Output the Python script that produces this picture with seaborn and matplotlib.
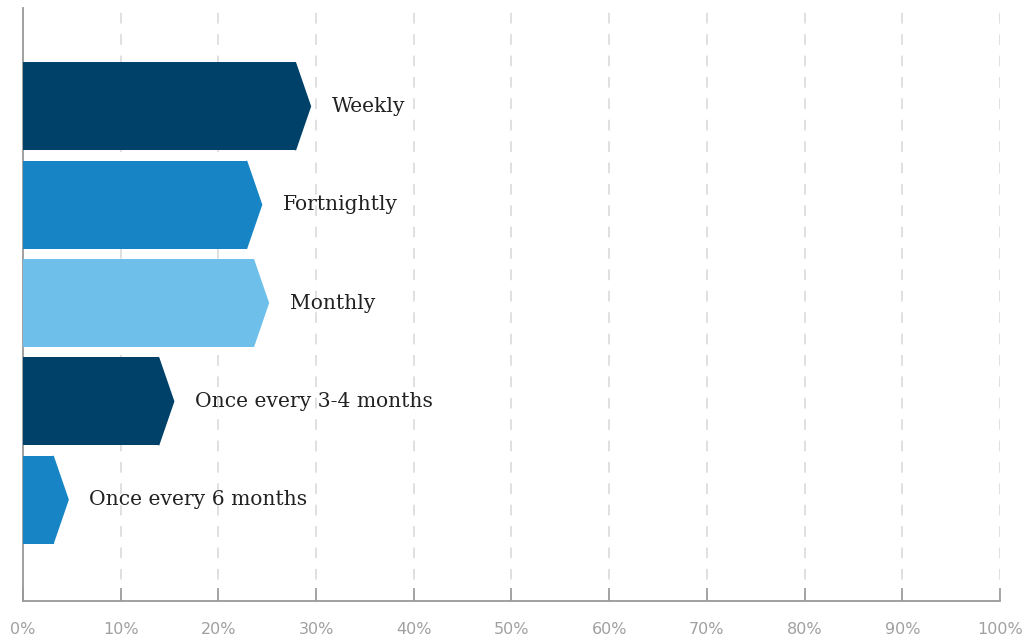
import matplotlib
matplotlib.use("Agg")
import matplotlib.pyplot as plt
from matplotlib.patches import Polygon
import seaborn as sns
import pandas as pd

categories = ["Weekly", "Fortnightly", "Monthly", "Once every 3-4 months", "Once every 6 months"]
values = [29.5, 24.5, 25.2, 15.5, 4.7]
bar_colors = ["#00416a", "#1785c5", "#6ebfe9", "#00416a", "#1785c5"]
tick_values = list(range(0, 101, 10))
tick_labels = [f"{t}%" for t in tick_values]

ARROW = 1.55      # length of the arrow tip, in % units
BAR_H = 0.895

sns.set_theme(style="white")
plt.rcParams["font.family"] = ["DejaVu Sans"]

df = pd.DataFrame({"category": categories, "value": values})
df["body"] = df["value"] - ARROW

fig = plt.figure(figsize=(10.3, 6.41), dpi=100)
ax = fig.add_axes([0.0223, 0.0624, 0.9486, 0.9251])

sns.barplot(data=df, x="body", y="category", hue="category", palette=bar_colors,
            orient="h", width=BAR_H, legend=False, ax=ax, zorder=3, saturation=1,
            linewidth=0, edgecolor="none")

# arrow tips + labels
for i, (cat, v, c) in enumerate(zip(categories, values, bar_colors)):
    tip = Polygon([(v - ARROW - 0.1, i - BAR_H / 2), (v - ARROW, i - BAR_H / 2), (v, i),
                   (v - ARROW, i + BAR_H / 2), (v - ARROW - 0.1, i + BAR_H / 2)],
                  closed=True, facecolor=c, edgecolor="none", linewidth=0, zorder=3)
    ax.add_patch(tip)
    ax.text(v + 2.1, i, cat, va="center", ha="left", fontsize=14.6,
            family="DejaVu Serif", color="#222222")

ax.set_xlim(0, 100)
ax.set_ylim(5.03, -1.0)
ax.set_xticks(tick_values)
ax.set_xticklabels(tick_labels, fontsize=11.5, color="#a0a0a0")
ax.set_yticks([])
ax.set_xlabel("")
ax.set_ylabel("")
ax.set_axisbelow(False)

for x in tick_values[1:]:
    ax.axvline(x, color="#e0e0e0", linewidth=1.4, linestyle=(0, (5.5, 5.5)), zorder=0.2)

ax.tick_params(axis="x", direction="in", length=9.5, width=1.2, color="#999999", pad=15,
               bottom=True)
for side in ["top", "right"]:
    ax.spines[side].set_visible(False)
for side in ["left", "bottom"]:
    ax.spines[side].set_color("#999999")
    ax.spines[side].set_linewidth(1.3)

fig.savefig("out.png", dpi=100)
